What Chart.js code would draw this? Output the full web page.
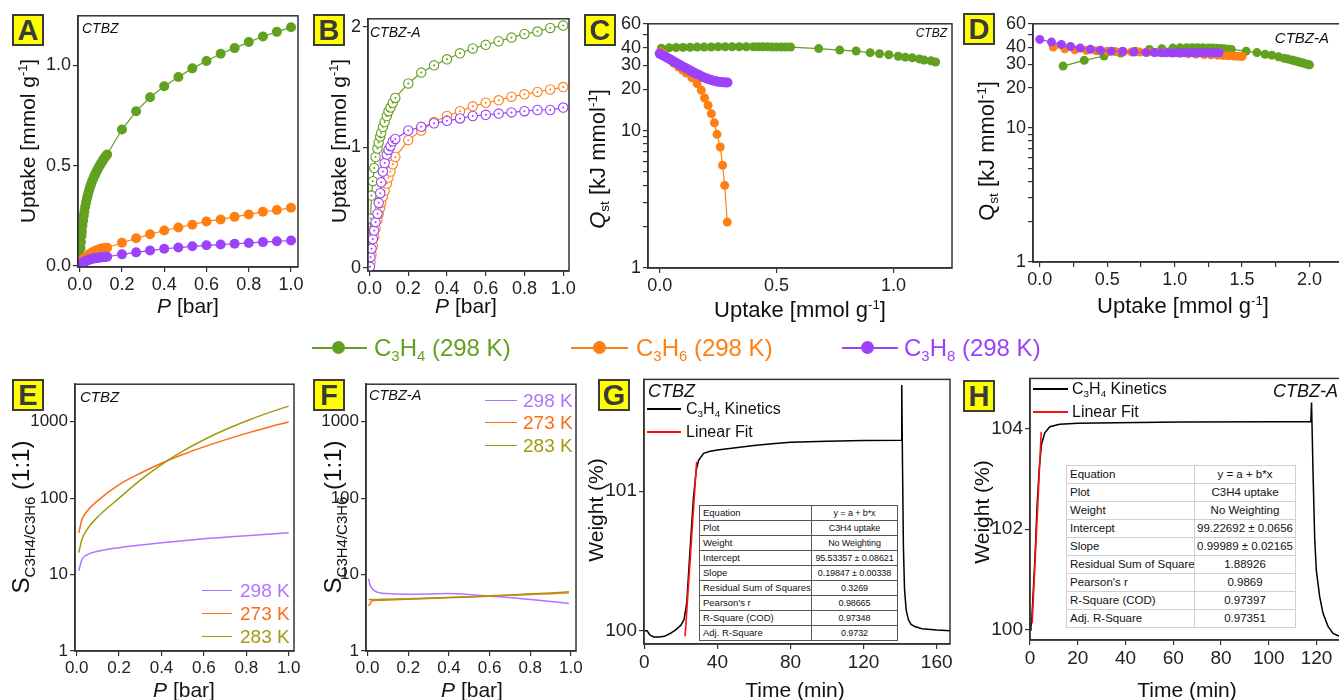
<!DOCTYPE html>
<html><head><meta charset="utf-8">
<script src="https://cdn.jsdelivr.net/npm/chart.js@4.4.0/dist/chart.umd.min.js"></script>
<style>
body{margin:0;width:1339px;height:700px;overflow:hidden;background:#fff;position:relative;font-family:"Liberation Sans",Arial,sans-serif;color:#111}
canvas{position:absolute}
.lb{position:absolute;box-sizing:border-box;width:32px;height:32px;background:#ffff00;border:2px solid #3c3c3c;font:bold 29px "Liberation Sans",Arial;color:#3a3a3a;text-align:center;line-height:29px}
.c{position:absolute;transform:translate(-50%,-50%);white-space:nowrap}
.r{position:absolute;transform:translate(-50%,-50%) rotate(-90deg);white-space:nowrap}
.l{position:absolute;transform:translateY(-50%);white-space:nowrap}
.rt{position:absolute;transform:translate(-100%,-50%);white-space:nowrap}
.s{font-size:62%;position:relative;top:0.32em}
.p{font-size:60%;position:relative;top:-0.6em}
.it{font-style:italic}
.ln{position:absolute;height:0}
.dot{position:absolute;border-radius:50%}
table{position:absolute;border-collapse:collapse;background:#fff;table-layout:fixed}
td{padding:0 0 0 3px;white-space:nowrap;overflow:hidden}
td+td{text-align:center;padding:0}
.tg td{border:1px solid #555;font-size:9.5px;height:14px;line-height:14px}
.tg td+td{font-size:9px;letter-spacing:-0.1px}
.tg{border:1.5px solid #555}
.th td{border:1px solid #d0d0d0;font-size:11.5px;height:17px;line-height:17px}
.th{border:1px solid #999}
</style></head><body>
<script>
// ---------------- DATA ----------------
// Panel A (CTBZ) isotherms, 298 K
const aPressure = [0.002,0.004,0.006,0.008,0.010,0.013,0.016,0.019,0.022,0.026,0.030,0.034,0.038,0.043,0.048,0.053,0.058,0.064,0.070,0.076,0.082,0.088,0.094,0.100,0.106,0.112,0.118,0.124,0.130,0.2,0.267,0.333,0.4,0.467,0.533,0.6,0.667,0.733,0.8,0.867,0.933,1.0];
const aC3H4 = [0.05,0.09,0.12,0.15,0.17,0.20,0.225,0.25,0.27,0.295,0.315,0.335,0.352,0.372,0.39,0.405,0.42,0.435,0.45,0.463,0.476,0.488,0.50,0.51,0.52,0.53,0.54,0.548,0.556,0.68,0.771,0.841,0.896,0.942,0.985,1.022,1.058,1.086,1.116,1.144,1.167,1.19];
const aC3H6 = [0.005,0.01,0.014,0.018,0.022,0.026,0.03,0.034,0.037,0.041,0.045,0.049,0.052,0.056,0.06,0.063,0.066,0.07,0.073,0.076,0.079,0.081,0.083,0.085,0.087,0.088,0.089,0.09,0.091,0.116,0.138,0.158,0.177,0.192,0.206,0.222,0.232,0.245,0.257,0.27,0.279,0.29];
const aC3H8 = [0.003,0.006,0.008,0.01,0.012,0.015,0.017,0.019,0.021,0.023,0.025,0.027,0.029,0.031,0.033,0.034,0.036,0.037,0.038,0.039,0.040,0.041,0.042,0.043,0.044,0.045,0.045,0.046,0.046,0.058,0.068,0.077,0.086,0.092,0.098,0.103,0.107,0.111,0.115,0.119,0.123,0.127];
// Panel B (CTBZ-A)
const bPressure = [0.002,0.005,0.01,0.017,0.024,0.031,0.041,0.047,0.055,0.06,0.069,0.078,0.089,0.098,0.108,0.12,0.133,0.2,0.267,0.333,0.4,0.467,0.533,0.6,0.667,0.733,0.8,0.867,0.933,1.0];
const bC3H4 = [0.25,0.41,0.6,0.72,0.83,0.92,0.99,1.04,1.09,1.12,1.17,1.21,1.26,1.30,1.33,1.37,1.41,1.53,1.62,1.68,1.73,1.78,1.82,1.85,1.88,1.91,1.94,1.96,1.99,2.01];
const bC3H6 = [0.02,0.05,0.11,0.18,0.26,0.33,0.40,0.45,0.50,0.54,0.59,0.64,0.70,0.75,0.80,0.86,0.92,1.06,1.14,1.21,1.26,1.30,1.34,1.37,1.39,1.42,1.44,1.46,1.48,1.50];
const bC3H8 = [0.01,0.09,0.16,0.24,0.31,0.38,0.45,0.54,0.62,0.71,0.80,0.87,0.94,0.98,1.01,1.05,1.07,1.14,1.17,1.20,1.22,1.24,1.26,1.27,1.28,1.29,1.30,1.31,1.31,1.33];
// Panel C (CTBZ) isosteric heat
const cUptakeC3H4 = [0.007,0.04,0.07,0.1,0.13,0.16,0.19,0.22,0.25,0.28,0.31,0.34,0.37,0.40,0.42,0.44,0.46,0.48,0.50,0.52,0.54,0.56,0.68,0.77,0.84,0.90,0.94,0.98,1.02,1.05,1.08,1.11,1.13,1.16,1.18];
const cQstC3H4 = [39.9,40.1,40.3,40.4,40.5,40.6,40.7,40.7,40.8,40.8,40.8,40.8,40.8,40.8,40.8,40.8,40.8,40.7,40.7,40.7,40.6,40.6,39.6,38.6,38.0,37.0,36.3,35.7,34.8,34.3,33.9,33.3,32.7,32.3,31.6];
const cUptakeC3H6 = [0.003,0.02,0.04,0.06,0.081,0.098,0.114,0.138,0.16,0.178,0.192,0.207,0.221,0.234,0.245,0.259,0.269,0.278,0.289];
const cQstC3H6 = [37.5,35.5,33.3,31.0,29.1,27.6,26.3,24.3,22.0,19.7,17.3,15.3,13.3,11.4,9.4,7.6,5.6,4.0,2.16];
const cUptakeC3H8 = [0,0.01,0.02,0.03,0.04,0.05,0.06,0.07,0.08,0.09,0.10,0.11,0.12,0.13,0.14,0.15,0.16,0.17,0.18,0.19,0.20,0.21,0.22,0.23,0.24,0.25,0.26,0.27,0.28,0.29];
const cQstC3H8 = [36.4,35.6,34.8,34.1,33.4,32.6,31.9,31.2,30.5,29.8,29.2,28.6,28.0,27.4,26.8,26.3,25.8,25.3,24.8,24.4,24.0,23.7,23.4,23.1,22.9,22.7,22.6,22.5,22.4,22.4];
// Panel D (CTBZ-A) isosteric heat
const dUptakeC3H4 = [0.173,0.33,0.476,0.6,0.707,0.813,0.905,0.987,1.04,1.09,1.13,1.17,1.21,1.25,1.28,1.31,1.34,1.37,1.40,1.42,1.53,1.61,1.67,1.72,1.77,1.81,1.84,1.87,1.89,1.91,1.93,1.95,1.97,1.99,2.0];
const dQstC3H4 = [29.0,32.0,34.5,36.3,37.5,38.6,39.1,39.5,39.7,39.8,39.8,39.8,39.7,39.6,39.5,39.4,39.2,39.0,38.8,38.6,37.5,36.6,35.5,35.0,34.0,33.2,32.7,32.2,31.8,31.4,31.0,30.6,30.2,29.8,29.6];
const dUptakeC3H6 = [0.1,0.186,0.26,0.347,0.42,0.5,0.56,0.62,0.68,0.74,0.8,0.86,0.92,0.98,1.04,1.1,1.16,1.22,1.27,1.32,1.36,1.40,1.44,1.47,1.5];
const dQstC3H6 = [40.2,39.0,38.4,38.0,37.7,37.5,37.3,37.1,37.0,36.9,36.8,36.6,36.5,36.3,36.1,35.9,35.6,35.4,35.2,35.0,34.8,34.6,34.5,34.3,34.2];
const dUptakeC3H8 = [0.0,0.087,0.16,0.228,0.3,0.376,0.45,0.53,0.614,0.698,0.787,0.85,0.9,0.94,0.98,1.01,1.04,1.07,1.11,1.14,1.17,1.2,1.23,1.26,1.29,1.31,1.33];
const dQstC3H8 = [45.9,43.8,42.1,40.7,39.5,38.7,38.0,37.5,37.4,36.9,36.7,36.6,36.5,36.5,36.5,36.5,36.5,36.5,36.5,36.5,36.5,36.5,36.5,36.5,36.5,36.5,36.5];
// Panel E (CTBZ) IAST selectivity
const ePressure = [0.01,0.024,0.047,0.094,0.2,0.3,0.4,0.5,0.6,0.7,0.8,0.9,1.0];
const eSel298 = [11.2,15.5,18,20,22.5,24.3,26.1,27.7,29.4,30.8,32.3,33.8,35.3];
const eSel273 = [35.3,51.7,66.5,90,150,212,286,372,469,579,705,843,991];
const eSel283 = [19.4,28.3,38.3,55,100,172,275,412,582,785,1023,1297,1603];
// Panel F (CTBZ-A) IAST selectivity
const fPressure = [0.005,0.01,0.021,0.046,0.095,0.193,0.3,0.39,0.5,0.603,0.7,0.8,0.9,0.99];
const fSel298 = [8.87,7.6,6.6,5.9,5.65,5.54,5.58,5.65,5.5,5.22,5.0,4.72,4.45,4.19];
const fSel273 = [3.9,4.06,4.54,4.6,4.65,4.75,4.87,4.96,5.09,5.22,5.35,5.5,5.63,5.77];
const fSel283 = [4.72,4.72,4.72,4.72,4.75,4.82,4.92,5.01,5.14,5.27,5.42,5.6,5.76,5.94];
// Panel G (CTBZ) kinetics
const gTime = [0,1.5,3,5,8,11,14,17,20,21.7,23.2,25,26.9,28.4,29.7,32.4,36,40,50,60,70,80,100,120,140.5,140.9,141.3,141.8,142.4,143.3,144.5,146,148,152,160,168];
const gWeight = [100.0,100.0,99.97,99.955,99.955,99.96,99.98,100.005,100.04,100.08,100.2,100.58,100.96,101.15,101.22,101.27,101.285,101.295,101.31,101.326,101.34,101.35,101.357,101.362,101.365,101.76,101.2,100.6,100.3,100.15,100.08,100.045,100.03,100.015,100.005,100.0];
const gFitTime = [22.3,28.6];
const gFitWeight = [99.96,101.21];
// Panel H (CTBZ-A) kinetics
const hTime = [0,0.4,0.8,1.1,2.1,3.0,3.9,4.8,6.2,8.3,12.4,20,36,63.4,104.8,117.6,117.9,118.5,119.2,119.9,121.3,122.7,124.8,126.9,129.3,134];
const hWeight = [100.0,100.07,100.26,100.53,101.45,102.5,103.22,103.68,103.91,104.03,104.08,104.1,104.11,104.125,104.13,104.13,104.51,103.16,101.84,101.18,100.66,100.33,100.07,99.93,99.88,99.87];
const hFitTime = [0.9,4.7];
const hFitWeight = [100.13,103.93];
// Tick labels
const ticksP = [0,0.2,0.4,0.6,0.8,1.0];
const ticksA_Y = [0,0.5,1.0];
const ticksB_Y = [0,1,2];
const ticksC_X = [0,0.5,1.0];
const ticksD_X = [0,0.25,0.5,0.75,1.0,1.25,1.5,1.75,2.0];
const labelsD_X = [0,0.5,1.0,1.5,2.0];
const ticksQst = [1,2,3,4,5,6,7,8,9,10,20,30,40,50,60];
const labelsQst = [1,10,20,30,40,60];
const ticksSel = [1,10,100,1000];
const ticksG_X = [0,40,80,120,160];
const ticksG_Y = [100,101];
const ticksH_X = [0,20,40,60,80,100,120];
const ticksH_Y = [100,102,104];

// ---------------- STYLE ----------------
const GREEN='#62a01f', ORANGE='#ff7f12', PURPLE='#9c42fb';
const S298='#b274ff', S273='#ff6b16', S283='#a39a10';
const TF='Liberation Sans';
const pts=(xs,ys)=>xs.map((x,i)=>({x,y:ys[i]}));

const boxPlugin={id:'box',afterDraw(ch){const a=ch.chartArea,c=ch.ctx;c.save();c.strokeStyle='#333';c.lineWidth=1.5;c.strokeRect(a.left,a.top,a.right-a.left,a.bottom-a.top);c.restore();}};

function axis(type,min,max,ticks,fmt,size){
  return {type,min,max,
    afterBuildTicks:s=>{s.ticks=ticks.map(v=>({value:v}));},
    ticks:{font:{family:TF,size},color:'#222',padding:2,maxRotation:0,autoSkip:false,callback:fmt},
    grid:{drawOnChartArea:false,drawTicks:true,tickLength:5,color:'#333',lineWidth:1.2},
    border:{color:'#333',width:1.5}};
}
function dots(xs,ys,color,r,order){
  return {data:pts(xs,ys),showLine:true,borderColor:color,borderWidth:1.2,pointRadius:r,pointHoverRadius:r,
    pointBackgroundColor:color,pointBorderWidth:0,order};
}
function hollow(xs,ys,color,order){
  return [{data:pts(xs,ys),showLine:true,borderColor:color,borderWidth:1.2,pointRadius:4.7,pointHoverRadius:4.7,
    pointBackgroundColor:'#fff',pointBorderColor:color,pointBorderWidth:1.1,order:order+0.5},
    {data:pts(xs,ys),showLine:false,pointRadius:1,pointBackgroundColor:color,pointBorderWidth:0,order}];
}
function curve(xs,ys,color,w,order){
  return {data:pts(xs,ys),showLine:true,borderColor:color,borderWidth:w,pointRadius:0,cubicInterpolationMode:'monotone',order};
}
function panel(rect,datasets,xAx,yAx){
  const PL=52,PT=12,PR=20,PB=34;
  const cv=document.createElement('canvas');
  const w=rect.R-rect.L+PL+PR,h=rect.B-rect.T+PT+PB;
  cv.width=w;cv.height=h;cv.style.width=w+'px';cv.style.height=h+'px';
  cv.style.left=(rect.L-PL)+'px';cv.style.top=(rect.T-PT)+'px';
  document.body.appendChild(cv);
  xAx.afterFit=s=>{s.height=PB;};
  yAx.afterFit=s=>{s.width=PL;};
  new Chart(cv,{type:'scatter',data:{datasets},
    options:{responsive:false,animation:false,devicePixelRatio:1,
      layout:{padding:{top:PT,right:PR,left:0,bottom:0}},
      plugins:{legend:{display:false},tooltip:{enabled:false}},
      scales:{x:xAx,y:yAx}},
    plugins:[boxPlugin]});
}
const f1=v=>Number(v).toFixed(1);
const fi=v=>String(v);

// A
panel({L:78,T:15,R:298,B:267},
  [dots(aPressure,aC3H8,PURPLE,5,0),dots(aPressure,aC3H6,ORANGE,5,1),dots(aPressure,aC3H4,GREEN,5,2)],
  axis('linear',-0.008,1.033,ticksP,f1,18),axis('linear',-0.005,1.247,ticksA_Y,f1,18));
// B
panel({L:368,T:18,R:569,B:271},
  [...hollow(bPressure,bC3H8,PURPLE,0),...hollow(bPressure,bC3H6,ORANGE,2),...hollow(bPressure,bC3H4,GREEN,4)],
  axis('linear',-0.008,1.03,ticksP,f1,18),axis('linear',-0.025,2.066,ticksB_Y,fi,18));
// C
panel({L:648,T:23,R:952,B:268},
  [dots(cUptakeC3H8,cQstC3H8,PURPLE,5,0),dots(cUptakeC3H6,cQstC3H6,ORANGE,4.5,1),dots(cUptakeC3H4,cQstC3H4,GREEN,4.5,2)],
  axis('linear',-0.05,1.25,ticksC_X,f1,18),
  axis('logarithmic',1,60,ticksQst,v=>labelsQst.includes(v)?String(v):'',18));
// D
panel({L:1033,T:23,R:1350,B:262},
  [dots(dUptakeC3H8,dQstC3H8,PURPLE,4.5,0),dots(dUptakeC3H6,dQstC3H6,ORANGE,4.5,1),dots(dUptakeC3H4,dQstC3H4,GREEN,4.5,2)],
  axis('linear',-0.05,2.30,ticksD_X,v=>labelsD_X.includes(v)?f1(v):'',18),
  axis('logarithmic',1,60,ticksQst,v=>labelsQst.includes(v)?String(v):'',18));
// E
panel({L:75,T:384,R:294,B:651},
  [curve(ePressure,eSel298,S298,1.5,2),curve(ePressure,eSel273,S273,1.5,1),curve(ePressure,eSel283,S283,1.5,0)],
  axis('linear',-0.008,1.025,ticksP,f1,17),axis('logarithmic',1,3100,ticksSel,fi,17));
// F
panel({L:366,T:384,R:576,B:651},
  [curve(fPressure,fSel298,S298,1.5,2),curve(fPressure,fSel273,S273,1.5,1),curve(fPressure,fSel283,S283,1.5,0)],
  axis('linear',-0.008,1.025,ticksP,f1,17),axis('logarithmic',1,3100,ticksSel,fi,17));
// G
panel({L:644,T:378,R:950,B:644},
  [{data:pts(gFitTime,gFitWeight),showLine:true,borderColor:'#ff1010',borderWidth:1.6,pointRadius:0,order:0},
   {data:pts(gTime,gWeight),showLine:true,borderColor:'#000',borderWidth:1.5,pointRadius:0,order:1}],
  axis('linear',-0.2,167.3,ticksG_X,fi,19),axis('linear',99.905,101.80,ticksG_Y,fi,19));
// H
panel({L:1030,T:377,R:1350,B:640},
  [{data:pts(hFitTime,hFitWeight),showLine:true,borderColor:'#ff1010',borderWidth:1.6,pointRadius:0,order:0},
   {data:pts(hTime,hWeight),showLine:true,borderColor:'#000',borderWidth:1.5,pointRadius:0,order:1}],
  axis('linear',0,134,ticksH_X,fi,19),axis('linear',99.80,104.99,ticksH_Y,fi,19));
</script>

<!-- panel letters -->
<div class="lb" style="left:12px;top:14px">A</div>
<div class="lb" style="left:313px;top:14px">B</div>
<div class="lb" style="left:584px;top:14px">C</div>
<div class="lb" style="left:963px;top:13px">D</div>
<div class="lb" style="left:12px;top:379px">E</div>
<div class="lb" style="left:313px;top:379px">F</div>
<div class="lb" style="left:598px;top:379px">G</div>
<div class="lb" style="left:963px;top:380px">H</div>

<!-- axis titles -->
<div class="r" style="left:28px;top:141px;font-size:21px">Uptake [mmol g<span class="p">-1</span>]</div>
<div class="c" style="left:188px;top:306px;font-size:21px"><span class="it">P</span> [bar]</div>
<div class="r" style="left:339px;top:141px;font-size:21px">Uptake [mmol g<span class="p">-1</span>]</div>
<div class="c" style="left:466px;top:306px;font-size:21px"><span class="it">P</span> [bar]</div>
<div class="r" style="left:598px;top:159px;font-size:22px"><span class="it">Q</span><span class="s">st</span> [kJ mmol<span class="p">-1</span>]</div>
<div class="c" style="left:800px;top:310px;font-size:22px">Uptake [mmol g<span class="p">-1</span>]</div>
<div class="r" style="left:987px;top:151px;font-size:22px">Q<span class="s">st</span> [kJ mmol<span class="p">-1</span>]</div>
<div class="c" style="left:1183px;top:306px;font-size:22px">Uptake [mmol g<span class="p">-1</span>]</div>
<div class="r" style="left:21px;top:517px;font-size:24px">S<span style="font-size:15px;position:relative;top:6px">C3H4/C3H6</span> (1:1)</div>
<div class="c" style="left:184px;top:690px;font-size:21px"><span class="it">P</span> [bar]</div>
<div class="r" style="left:333px;top:517px;font-size:24px">S<span style="font-size:15px;position:relative;top:6px">C3H4/C3H6</span> (1:1)</div>
<div class="c" style="left:472px;top:690px;font-size:21px"><span class="it">P</span> [bar]</div>
<div class="r" style="left:596px;top:510px;font-size:21px">Weight (%)</div>
<div class="c" style="left:795px;top:690px;font-size:21px">Time (min)</div>
<div class="r" style="left:982px;top:512px;font-size:21px">Weight (%)</div>
<div class="c" style="left:1187px;top:690px;font-size:21px">Time (min)</div>

<!-- sample names -->
<div class="l it" style="left:82px;top:28px;font-size:14px">CTBZ</div>
<div class="l it" style="left:370px;top:32px;font-size:14px">CTBZ-A</div>
<div class="rt it" style="left:947px;top:33px;font-size:12px">CTBZ</div>
<div class="rt it" style="left:1329px;top:37px;font-size:15px">CTBZ-A</div>
<div class="l it" style="left:80px;top:396px;font-size:15px">CTBZ</div>
<div class="l it" style="left:369px;top:395px;font-size:14.5px">CTBZ-A</div>
<div class="l it" style="left:648px;top:391px;font-size:18px">CTBZ</div>
<div class="rt it" style="left:1338px;top:391px;font-size:18px">CTBZ-A</div>

<!-- middle legend -->
<div class="ln" style="left:312px;top:347px;width:55px;border-top:2px solid #62a01f"></div>
<div class="dot" style="left:332px;top:341px;width:13px;height:13px;background:#62a01f"></div>
<div class="l" style="left:374px;top:348px;font-size:24px;color:#62a01f">C<span class="s">3</span>H<span class="s">4</span> (298 K)</div>
<div class="ln" style="left:571px;top:347px;width:57px;border-top:2px solid #ff7f12"></div>
<div class="dot" style="left:593px;top:341px;width:13px;height:13px;background:#ff7f12"></div>
<div class="l" style="left:636px;top:348px;font-size:24px;color:#ff7f12">C<span class="s">3</span>H<span class="s">6</span> (298 K)</div>
<div class="ln" style="left:842px;top:347px;width:56px;border-top:2px solid #9c42fb"></div>
<div class="dot" style="left:861px;top:341px;width:13px;height:13px;background:#9c42fb"></div>
<div class="l" style="left:904px;top:348px;font-size:24px;color:#9c42fb">C<span class="s">3</span>H<span class="s">8</span> (298 K)</div>

<!-- E legend -->
<div class="ln" style="left:202px;top:590px;width:30px;border-top:1.5px solid #b274ff"></div>
<div class="l" style="left:240px;top:591px;font-size:19px;color:#b274ff">298 K</div>
<div class="ln" style="left:202px;top:613px;width:30px;border-top:1.5px solid #ff6b16"></div>
<div class="l" style="left:240px;top:614px;font-size:19px;color:#ff6b16">273 K</div>
<div class="ln" style="left:202px;top:636px;width:30px;border-top:1.5px solid #a39a10"></div>
<div class="l" style="left:240px;top:637px;font-size:19px;color:#a39a10">283 K</div>
<!-- F legend -->
<div class="ln" style="left:485px;top:400px;width:32px;border-top:1.5px solid #b274ff"></div>
<div class="l" style="left:523px;top:401px;font-size:19px;color:#b274ff">298 K</div>
<div class="ln" style="left:485px;top:422px;width:32px;border-top:1.5px solid #ff6b16"></div>
<div class="l" style="left:523px;top:423px;font-size:19px;color:#ff6b16">273 K</div>
<div class="ln" style="left:485px;top:445px;width:32px;border-top:1.5px solid #a39a10"></div>
<div class="l" style="left:523px;top:446px;font-size:19px;color:#a39a10">283 K</div>

<!-- G legend -->
<div class="ln" style="left:647px;top:408px;width:34px;border-top:2px solid #000"></div>
<div class="l" style="left:686px;top:409px;font-size:16px">C<span class="s">3</span>H<span class="s">4</span> Kinetics</div>
<div class="ln" style="left:647px;top:431px;width:34px;border-top:2px solid #ff1010"></div>
<div class="l" style="left:686px;top:432px;font-size:16px">Linear Fit</div>
<!-- H legend -->
<div class="ln" style="left:1033px;top:388px;width:35px;border-top:2px solid #000"></div>
<div class="l" style="left:1072px;top:389px;font-size:16px">C<span class="s">3</span>H<span class="s">4</span> Kinetics</div>
<div class="ln" style="left:1033px;top:411px;width:35px;border-top:2px solid #ff1010"></div>
<div class="l" style="left:1072px;top:412px;font-size:16px">Linear Fit</div>

<!-- fit tables -->
<table class="tg" style="left:699px;top:505px;width:198px">
<colgroup><col style="width:112px"><col style="width:86px"></colgroup>
<tr><td>Equation</td><td>y = a + b*x</td></tr>
<tr><td>Plot</td><td>C3H4 uptake</td></tr>
<tr><td>Weight</td><td>No Weighting</td></tr>
<tr><td>Intercept</td><td>95.53357 ± 0.08621</td></tr>
<tr><td>Slope</td><td>0.19847 ± 0.00338</td></tr>
<tr><td>Residual Sum of Squares</td><td>0.3269</td></tr>
<tr><td>Pearson's r</td><td>0.98665</td></tr>
<tr><td>R-Square (COD)</td><td>0.97348</td></tr>
<tr><td>Adj. R-Square</td><td>0.9732</td></tr>
</table>
<table class="th" style="left:1066px;top:465px;width:229px">
<colgroup><col style="width:128px"><col style="width:101px"></colgroup>
<tr><td>Equation</td><td>y = a + b*x</td></tr>
<tr><td>Plot</td><td>C3H4 uptake</td></tr>
<tr><td>Weight</td><td>No Weighting</td></tr>
<tr><td>Intercept</td><td>99.22692 ± 0.0656</td></tr>
<tr><td>Slope</td><td>0.99989 ± 0.02165</td></tr>
<tr><td>Residual Sum of Square</td><td>1.88926</td></tr>
<tr><td>Pearson's r</td><td>0.9869</td></tr>
<tr><td>R-Square (COD)</td><td>0.97397</td></tr>
<tr><td>Adj. R-Square</td><td>0.97351</td></tr>
</table>
</body></html>
